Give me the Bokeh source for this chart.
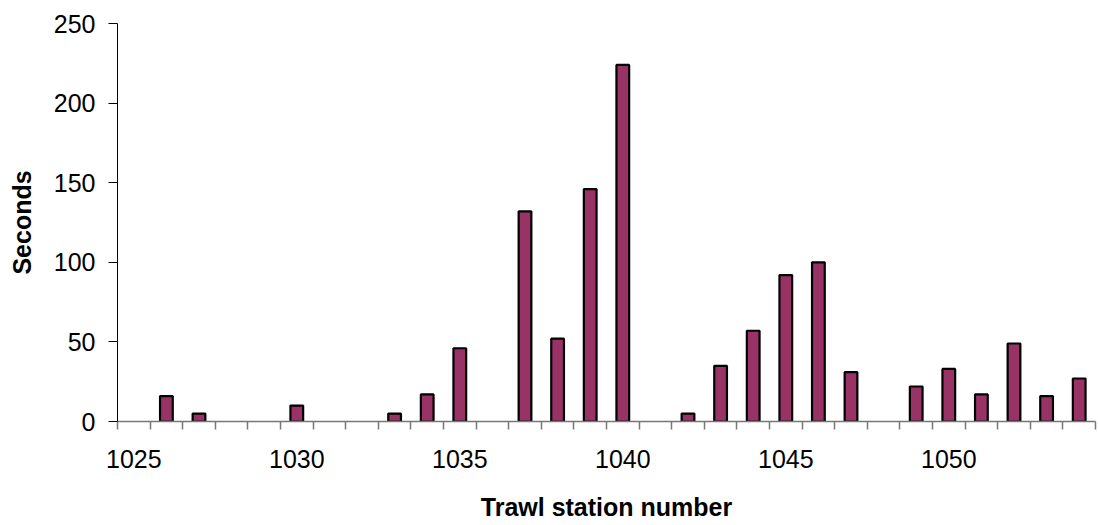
from bokeh.plotting import figure
from bokeh.models import Range1d, FixedTicker, ColumnDataSource
from bokeh.embed import file_html
from bokeh.resources import INLINE

# Trawl stations and the time recorded at each (seconds)
stations = [1025, 1026, 1027, 1028, 1029, 1030, 1031, 1032, 1033, 1034,
            1035, 1036, 1037, 1038, 1039, 1040, 1041, 1042, 1043, 1044,
            1045, 1046, 1047, 1048, 1049, 1050, 1051, 1052, 1053, 1054]
seconds = [0, 16, 5, 0, 0, 10, 0, 0, 5, 17,
           46, 0, 132, 52, 146, 224, 0, 5, 35, 57,
           92, 100, 31, 0, 22, 33, 17, 49, 16, 27]
x_tick_labels = [1025, 1030, 1035, 1040, 1045, 1050]
y_ticks = [0, 50, 100, 150, 200, 250]

FONT = "Liberation Sans"
BAR_FILL = "#993366"

# only stations with a recorded time get a bar
xs = [s for s, v in zip(stations, seconds) if v > 0]
ys = [v for v in seconds if v > 0]
src = ColumnDataSource(data=dict(station=xs, seconds=ys))

p = figure(width=1098, height=525, output_backend="svg", toolbar_location=None,
           x_range=Range1d(stations[0] - 0.5, stations[-1] + 0.5),
           y_range=Range1d(0, 250),
           min_border_left=117, min_border_right=3,
           min_border_top=23, min_border_bottom=104)
p.background_fill_color = "white"
p.border_fill_color = "white"
p.outline_line_color = None
p.xgrid.visible = False
p.ygrid.visible = False

p.vbar(x="station", top="seconds", width=0.39, bottom=0, source=src,
       fill_color=BAR_FILL, line_color="black", line_width=2.2)

# x axis: labels every fifth station, tick marks between categories
boundaries = [s - 0.5 for s in stations] + [stations[-1] + 0.5]
xa = p.xaxis[0]
xa.ticker = FixedTicker(ticks=x_tick_labels, minor_ticks=boundaries)
xa.major_tick_line_color = None
xa.minor_tick_line_color = "#777777"
xa.minor_tick_line_width = 1.5
xa.minor_tick_out = 8
xa.minor_tick_in = 0
xa.axis_line_color = "#777777"
xa.axis_line_width = 1.5
xa.major_label_standoff = 20
xa.major_label_text_font = FONT
xa.major_label_text_font_size = "25px"
xa.major_label_text_color = "black"
xa.axis_label = "Trawl station number"
xa.axis_label_text_font = FONT
xa.axis_label_text_font_size = "25px"
xa.axis_label_text_font_style = "bold"
xa.axis_label_text_color = "black"
xa.axis_label_standoff = 22

ya = p.yaxis[0]
ya.ticker = FixedTicker(ticks=y_ticks, minor_ticks=[])
ya.major_tick_out = 9
ya.major_tick_in = 0
ya.major_tick_line_color = "black"
ya.axis_line_color = "black"
ya.axis_line_width = 1
ya.major_label_standoff = 13
ya.major_label_text_font = FONT
ya.major_label_text_font_size = "25px"
ya.major_label_text_color = "black"
ya.axis_label = "Seconds"
ya.axis_label_text_font = FONT
ya.axis_label_text_font_size = "25px"
ya.axis_label_text_font_style = "bold"
ya.axis_label_text_color = "black"
ya.axis_label_standoff = 15

open("out.html", "w").write(file_html(p, INLINE))
